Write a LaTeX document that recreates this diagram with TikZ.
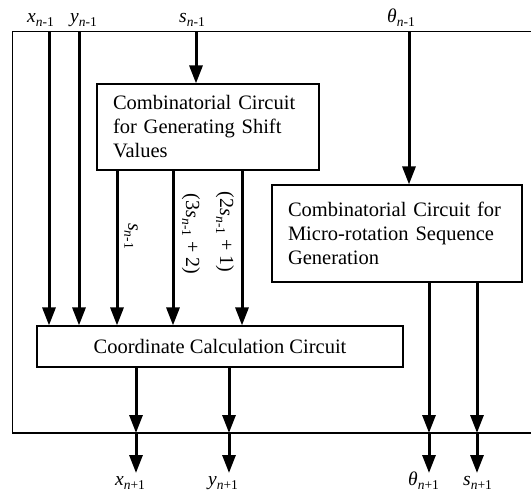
\documentclass[tikz,border=0pt]{standalone}
\usepackage{fontspec}
\setmainfont{Liberation Serif}
\usetikzlibrary{arrows.meta}
\newcommand{\vsb}[2]{\textit{#1}\raisebox{-4pt}{\fontsize{13.5}{14}\selectfont\textit{n}#2}}
\begin{document}
\begin{tikzpicture}[x=1pt,y=-1pt,
  box/.style={draw, line width=1.1pt, inner ysep=0pt},
  txt/.style={font=\fontsize{20.5}{24}\selectfont, align=left, inner xsep=16pt},
  arr/.style={line width=3pt, -{Triangle[length=18pt,width=13pt]}},
  frame/.style={line width=1.1pt},
  lbl/.style={font=\fontsize{19.5}{22}\selectfont, inner sep=0pt}]
\useasboundingbox (0,0) rectangle (531,492);

% outer frame
\draw[frame] (535,31.5) -- (12.5,31.5) -- (12.5,433) -- (535,433);
\coordinate (fb) at (0,433);

% boxes
\node[box, txt, text width=190pt, minimum height=86pt] (shift) at (208,127)
  {Combinatorial Circuit\\for Generating Shift\\Values};
\node[box, txt, text width=218pt, minimum height=97pt] (rot) at (397,233.5)
  {Combinatorial Circuit for\\Micro-rotation Sequence\\Generation};
\node[box, font=\fontsize{20.5}{24}\selectfont, minimum width=366pt, minimum height=41pt] (coord) at (220,346.5)
  {Coordinate Calculation Circuit};

% inputs
\coordinate (xin) at (49,31.5);
\coordinate (yin) at (79,31.5);
\coordinate (sin) at (196,31.5);
\coordinate (tin) at (409,31.5);
\node[lbl, anchor=base west] (xl) at (27,23) {\vsb{x}{-1}};
\node[lbl, anchor=base west] (yl) at (70,23) {\vsb{y}{-1}};
\node[lbl, anchor=base west] (sl) at (179,23) {\vsb{s}{-1}};
\node[lbl, anchor=base west] (tl) at (387,23) {\vsb{θ}{-1}};

\draw[arr] (xin) -- (xin |- coord.north);
\draw[arr] (yin) -- (yin |- coord.north);
\draw[arr] (sin) -- (sin |- shift.north);
\draw[arr] (tin) -- (tin |- rot.north);

% shift values
\coordinate (c1) at (117,0);
\coordinate (c2) at (173,0);
\coordinate (c3) at (242,0);
\draw[arr] (shift.south -| c1) -- (coord.north -| c1);
\draw[arr] (shift.south -| c2) -- (coord.north -| c2);
\draw[arr] (shift.south -| c3) -- (coord.north -| c3);
\node[lbl, font=\fontsize{20}{22}\selectfont, rotate=-90] (l1) at (131,236) {\vsb{s}{-1}};
\node[lbl, font=\fontsize{20}{22}\selectfont, rotate=-90] (l2) at (191,234) {(3\vsb{s}{-1} + 2)};
\node[lbl, font=\fontsize{20}{22}\selectfont, rotate=-90] (l3) at (225,232) {(2\vsb{s}{-1} + 1)};

% outputs
\coordinate (o1) at (136,473);
\coordinate (o2) at (229,473);
\coordinate (o3) at (429,473);
\coordinate (o4) at (477,473);
\draw[arr] (coord.south -| o1) -- (fb -| o1);
\draw[arr] (fb -| o1) -- (o1);
\draw[arr] (coord.south -| o2) -- (fb -| o2);
\draw[arr] (fb -| o2) -- (o2);
\draw[arr] (rot.south -| o3) -- (fb -| o3);
\draw[arr] (fb -| o3) -- (o3);
\draw[arr] (rot.south -| o4) -- (fb -| o4);
\draw[arr] (fb -| o4) -- (o4);
\node[lbl, anchor=base west] (xo) at (115,485) {\vsb{x}{+1}};
\node[lbl, anchor=base west] (yo) at (208,485) {\vsb{y}{+1}};
\node[lbl, anchor=base west] (to) at (408,485) {\vsb{θ}{+1}};
\node[lbl, anchor=base west] (so) at (463,485) {\vsb{s}{+1}};
\end{tikzpicture}
\end{document}
